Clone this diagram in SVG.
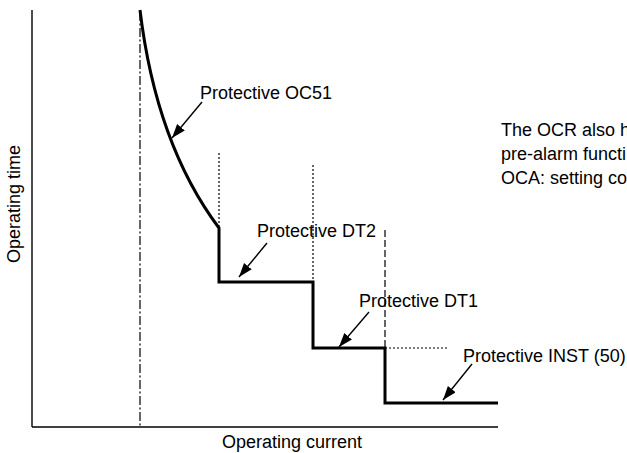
<svg xmlns="http://www.w3.org/2000/svg" width="627" height="453" viewBox="0 0 627 453">
<style>
text{font-family:"Liberation Sans",Arial,sans-serif;font-size:18px;fill:#000}
.axis{stroke:#000;stroke-width:1.4;fill:none}
.curve{stroke:#000;stroke-width:3;fill:none}
.dot{stroke:#000;stroke-width:1.2;stroke-dasharray:2 2;fill:none}
.dash{stroke:#000;stroke-width:1.2;stroke-dasharray:7 3;fill:none}
.dashdot{stroke:#000;stroke-width:1.2;stroke-dasharray:9 2.5 2 2.5;fill:none}
.lead{stroke:#000;stroke-width:1.4;fill:none;marker-end:url(#ah)}
</style>
<defs>
<marker id="ah" markerUnits="userSpaceOnUse" markerWidth="16" markerHeight="12" refX="14" refY="5" orient="auto">
<path d="M0,0 L14,5 L0,10 Z" fill="#000"/>
</marker>
</defs>
<g id="axes">
<line class="axis" x1="32" y1="10" x2="32" y2="427"/>
<line class="axis" x1="32" y1="427" x2="498" y2="427"/>
<text x="292" y="448" text-anchor="middle">Operating current</text>
<text transform="translate(20,204) rotate(-90)" text-anchor="middle">Operating time</text>
</g>
<g id="guides">
<line class="dashdot" x1="140" y1="12" x2="140" y2="427"/>
<line class="dot" x1="219" y1="153" x2="219" y2="228"/>
<line class="dot" x1="313" y1="165" x2="313" y2="282"/>
<line class="dash" x1="385" y1="230" x2="385" y2="348"/>
<line class="dot" x1="385" y1="348" x2="449" y2="348"/>
</g>
<g id="characteristic">
<path class="curve" d="M140,10 C152,110 183,180 219,228 V282 H313 V348 H385 V403 H498"/>
</g>
<g id="connectors">
<line class="lead" x1="202" y1="102" x2="172" y2="138"/>
<line class="lead" x1="267" y1="243" x2="239" y2="277"/>
<line class="lead" x1="369" y1="312" x2="339" y2="347"/>
<line class="lead" x1="472" y1="364" x2="443" y2="400"/>
</g>
<g id="label-oc51"><text x="200" y="99">Protective OC51</text></g>
<g id="label-dt2"><text x="257" y="237">Protective DT2</text></g>
<g id="label-dt1"><text x="359" y="307">Protective DT1</text></g>
<g id="label-inst"><text x="463" y="362">Protective INST (50)</text></g>
<g id="note">
<text x="501" y="136">The OCR also h</text>
<text x="501" y="160">pre-alarm functi</text>
<text x="501" y="184">OCA: setting co</text>
</g>
</svg>
